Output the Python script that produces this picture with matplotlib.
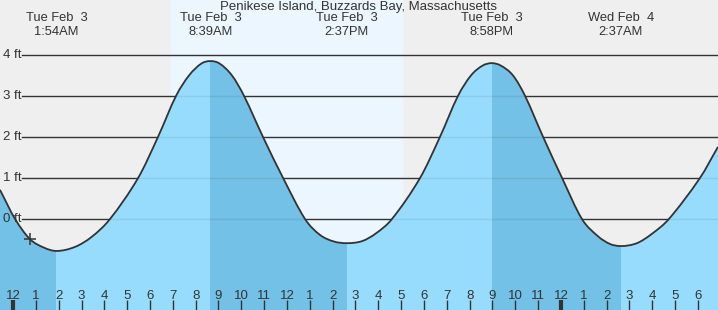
import numpy as np
import matplotlib
matplotlib.use("Agg")
import matplotlib.pyplot as plt
import matplotlib.transforms as mtransforms
from matplotlib.path import Path
from matplotlib.patches import PathPatch

plt.rcParams['font.family'] = ['Liberation Sans', 'DejaVu Sans']

title = "Penikese Island, Buzzards Bay, Massachusetts"

# hours since midnight Tue Feb 3, heights in ft
curve_t = [-0.57, 0.09, 0.74, 1.36, 1.9, 2.72, 3.46, 4.25, 5.48, 6.35, 7.14, 7.71, 8.25,
           8.65, 9.05, 9.59, 10.12, 10.95, 11.83, 12.79, 13.45, 14.06, 14.62, 15.29, 15.9,
           16.6, 17.83, 18.70, 19.49, 20.06, 20.57, 20.97, 21.37, 21.9, 22.43, 23.22, 24.05,
           24.92, 25.62, 26.15, 26.62, 27.33, 27.99, 28.73, 30.09, 30.88]
curve_h = [0.71, 0.0, -0.49, -0.70, -0.78, -0.68, -0.43, 0.0, 1.0, 2.0, 3.0, 3.5, 3.79,
           3.85, 3.79, 3.5, 3.0, 2.0, 1.0, 0.0, -0.39, -0.55, -0.59, -0.54, -0.35,
           0.0, 1.0, 2.0, 3.0, 3.5, 3.74, 3.80, 3.74, 3.5, 3.0, 2.0, 1.0,
           0.0, -0.42, -0.61, -0.66, -0.59, -0.36, 0.0, 1.0, 1.76]

extreme_t = [1.9, 8.65, 14.62, 20.97, 26.62]
extreme_day = ["Tue Feb  3", "Tue Feb  3", "Tue Feb  3", "Tue Feb  3", "Wed Feb  4"]
extreme_time = ["1:54AM", "8:39AM", "2:37PM", "8:58PM", "2:37AM"]

sunrise, sunset = 6.92, 17.04
now_t, now_h = 0.74, -0.49

hour_t = list(range(0, 31))
hour_lab = [str((h - 1) % 12 + 1) for h in hour_t]
ft_levels = [0, 1, 2, 3, 4]

x0, x1 = -0.57, 30.88
y0, y1 = -2.22, 5.34
ink = '#333333'

fig = plt.figure(figsize=(7.18, 3.10), dpi=100)
ax = fig.add_axes([0, 0, 1, 1])
ax.set_xlim(x0, x1)
ax.set_ylim(y0, y1)
ax.axis('off')

ax.axvspan(x0, x1, color='#efefef', zorder=0)
ax.axvspan(sunrise, sunset, color='#ebf6ff', zorder=0)

gx = 0.39
for f in ft_levels:
    ax.plot([gx, x1], [f, f], color=ink, lw=1, zorder=1)
    ax.text(0.004, (f - y0) / (y1 - y0), f"{f} ft", transform=ax.transAxes,
            ha='left', va='center', fontsize=9.5, color=ink, zorder=5)

# smooth Bezier path through the read points (flat tangent at high/low water)
t = np.array(curve_t)
h = np.array(curve_h)
n = len(t)
slope = np.zeros(n)
slope[1:-1] = (h[2:] - h[:-2]) / (t[2:] - t[:-2])
slope[0] = (h[1] - h[0]) / (t[1] - t[0])
slope[-1] = (h[-1] - h[-2]) / (t[-1] - t[-2])
for et in extreme_t:
    slope[np.argmin(np.abs(t - et))] = 0.0

verts = [(t[0], h[0])]
codes = [Path.MOVETO]
for i in range(n - 1):
    dt = t[i + 1] - t[i]
    verts += [(t[i] + dt / 3, h[i] + slope[i] * dt / 3),
              (t[i + 1] - dt / 3, h[i + 1] - slope[i + 1] * dt / 3),
              (t[i + 1], h[i + 1])]
    codes += [Path.CURVE4] * 3
line_path = Path(verts, codes)

water_path = Path(verts + [(t[-1], y0), (t[0], y0), (t[0], h[0])],
                  codes + [Path.LINETO, Path.LINETO, Path.CLOSEPOLY])
water = PathPatch(water_path, facecolor='#97dcfc', edgecolor='none', zorder=2)
ax.add_patch(water)

# falling tide in the darker blue
bounds = [x0] + extreme_t + [x1]
for i in range(0, len(bounds) - 1, 2):
    span = ax.axvspan(bounds[i], bounds[i + 1], color='#73c1e6', lw=0, zorder=2.1)
    span.set_clip_path(water)

for f in ft_levels:
    ln, = ax.plot([gx, x1], [f, f], color='#000000', lw=1, alpha=0.07, zorder=3)
    ln.set_clip_path(water)

ax.add_patch(PathPatch(line_path, facecolor='none', edgecolor=ink, lw=1.3, zorder=4))
ax.plot([now_t], [now_h], marker='+', ms=9, mew=1.1, color=ink, zorder=5)

ax.text(0.5, 1 - 7 / 310, title, transform=ax.transAxes, ha='center', va='center',
        fontsize=9.5, color=ink)
bt = mtransforms.blended_transform_factory(ax.transData, ax.transAxes)
for et, d, tm in zip(extreme_t, extreme_day, extreme_time):
    ax.text(et, 1 - 18 / 310, d, transform=bt, ha='center', va='center',
            fontsize=9.3, color=ink)
    ax.text(et, 1 - 32 / 310, tm, transform=bt, ha='center', va='center',
            fontsize=9.3, color=ink)

for ht, lab in zip(hour_t, hour_lab):
    mid = ht % 24 == 0
    ax.plot([ht, ht], [0, 10 / 310], transform=bt, color=ink,
            lw=3 if mid else 1, zorder=5, solid_capstyle='butt')
    ax.text(ht, 14 / 310, lab, transform=bt, ha='center', va='center',
            fontsize=9.5, color=ink, zorder=5)

fig.savefig("out.png", dpi=100)
